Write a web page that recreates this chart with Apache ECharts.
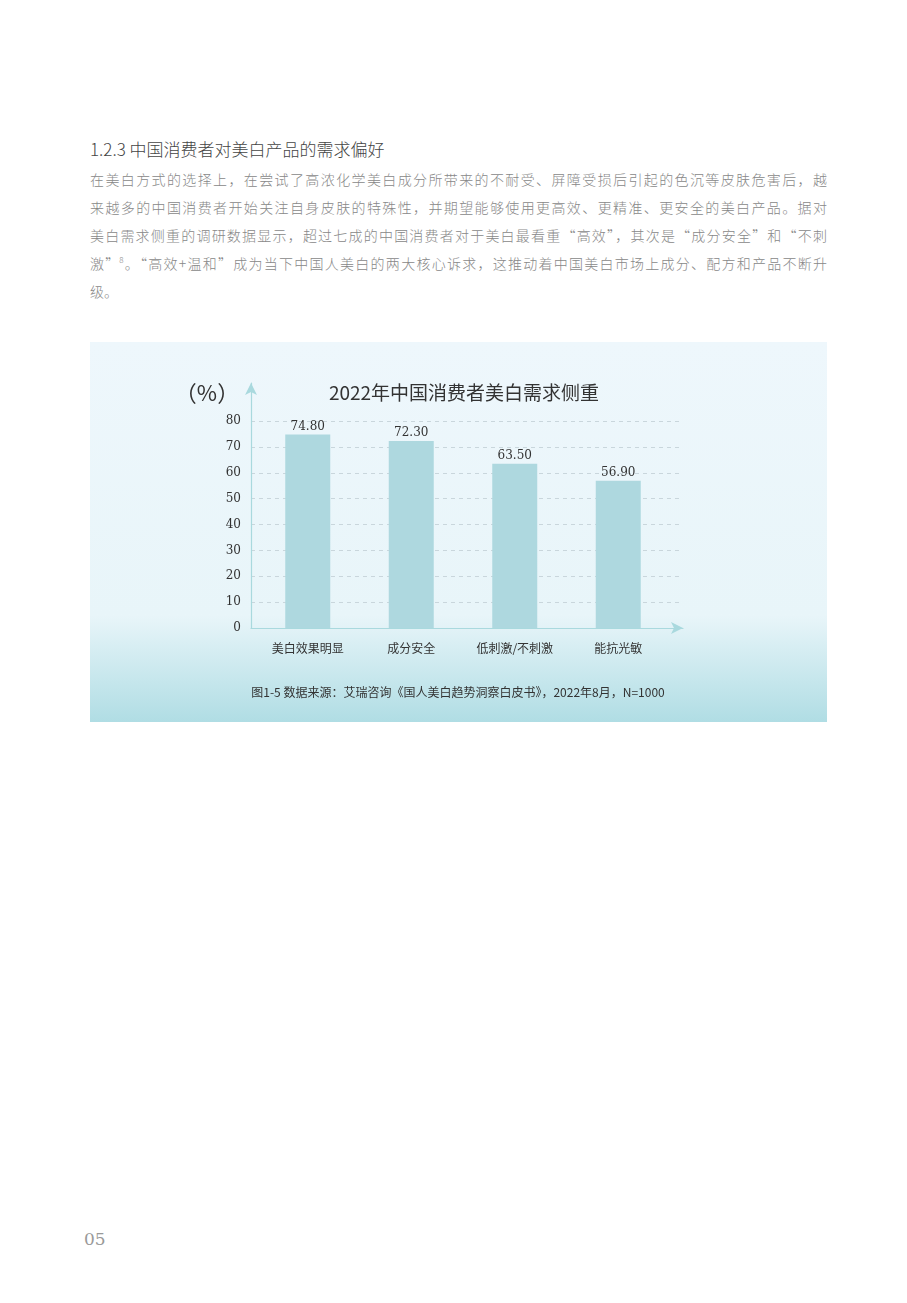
<!DOCTYPE html>
<html>
<head>
<meta charset="utf-8">
<script src="https://cdn.jsdelivr.net/npm/echarts@6/dist/echarts.min.js"></script>
<style>
  html, body { margin: 0; padding: 0; background: #fff; }
  body { width: 907px; height: 1303px; position: relative; font-family: "Noto Sans CJK SC", sans-serif; }
  .heading { position: absolute; left: 90px; top: 137px; font-size: 17px; color: #444; font-weight: 300; line-height: 24px; }
  .body { position: absolute; left: 90px; top: 165px; width: 737px; font-size: 14px; color: #888; font-weight: 300; line-height: 28px; }
  .body div { text-align: justify; text-align-last: justify; white-space: nowrap; }
  .body div.last { text-align-last: left; }
  .body sup { font-size: 8px; vertical-align: 6px; line-height: 0; }
  #chart { position: absolute; left: 90px; top: 342px; width: 737px; height: 380px; }
  .page { position: absolute; left: 84px; top: 1229px; font-family: "DejaVu Serif", serif; font-size: 17px; color: #999; }
</style>
</head>
<body>
<div class="heading">1.2.3 中国消费者对美白产品的需求偏好</div>
<div class="body">
  <div>在美白方式的选择上，在尝试了高浓化学美白成分所带来的不耐受、屏障受损后引起的色沉等皮肤危害后，越</div>
  <div>来越多的中国消费者开始关注自身皮肤的特殊性，并期望能够使用更高效、更精准、更安全的美白产品。据对</div>
  <div>美白需求侧重的调研数据显示，超过七成的中国消费者对于美白最看重“高效”，其次是“成分安全”和“不刺</div>
  <div>激”<sup>8</sup>。“高效+温和”成为当下中国人美白的两大核心诉求，这推动着中国美白市场上成分、配方和产品不断升</div>
  <div class="last">级。</div>
</div>
<div id="chart"></div>
<div class="page">05</div>
<script>
const categories = ['美白效果明显', '成分安全', '低刺激/不刺激', '能抗光敏']
const values = [74.8, 72.3, 63.5, 56.9]
const chartTitle = '2022年中国消费者美白需求侧重'
const unitLabel = '（%）'
const caption = '图1-5 数据来源：艾瑞咨询《国人美白趋势洞察白皮书》，2022年8月，N=1000'
const yMax = 94.7
const yLabelMax = 80

const chart = echarts.init(document.getElementById('chart'))

const axisColor = '#a9d9de'
const gridColors = []
for (let v = 0; v <= 90; v += 10) gridColors.push(v <= yLabelMax ? '#c9d6dc' : 'rgba(0,0,0,0)')
gridColors.push('rgba(0,0,0,0)')

chart.setOption({
  backgroundColor: new echarts.graphic.LinearGradient(0, 0, 0, 1, [
    { offset: 0, color: '#eef7fc' },
    { offset: 0.72, color: '#e8f5f9' },
    { offset: 1, color: '#b0dde4' }
  ]),
  title: [
    {
      text: chartTitle,
      left: 369,
      top: 36,
      textAlign: 'center',
      textStyle: { fontFamily: 'Noto Sans CJK SC', fontSize: 19, fontWeight: 'normal', color: '#333' }
    },
    {
      text: unitLabel,
      left: 112,
      top: 35,
      textAlign: 'center',
      textStyle: { fontFamily: 'Noto Sans CJK SC', fontSize: 22, fontWeight: 'normal', color: '#333' }
    },
    {
      text: caption,
      left: 363,
      top: 339,
      textAlign: 'center',
      textStyle: { fontFamily: 'Noto Sans CJK SC', fontSize: 12, fontWeight: 'normal', color: '#333' }
    }
  ],
  grid: [
    { left: 161, top: 41, width: 432, height: 245 },
    { left: 166, top: 41, width: 414, height: 245 }
  ],
  xAxis: [
    {
      gridIndex: 0,
      type: 'value',
      min: 0,
      max: 1,
      axisLine: { show: true, lineStyle: { color: axisColor, width: 1.2 }, symbol: ['none', 'arrow'], symbolSize: [9, 12] },
      axisTick: { show: false },
      axisLabel: { show: false },
      splitLine: { show: false }
    },
    {
      gridIndex: 1,
      type: 'category',
      data: categories,
      axisLine: { show: false },
      axisTick: { show: false },
      axisLabel: { margin: 14, fontFamily: 'Noto Sans CJK SC', fontSize: 12, color: '#333' }
    }
  ],
  yAxis: [
    {
      gridIndex: 0,
      type: 'value',
      min: 0,
      max: yMax,
      interval: 10,
      axisLine: { show: true, lineStyle: { color: axisColor, width: 1.2 }, symbol: ['none', 'arrow'], symbolSize: [9, 12] },
      axisTick: { show: false },
      axisLabel: {
        margin: 10,
        fontFamily: 'DejaVu Serif',
        fontSize: 12,
        color: '#333',
        formatter: (v) => (v <= yLabelMax ? String(v) : '')
      },
      splitLine: { show: true, lineStyle: { type: [4, 4], color: gridColors, width: 1 } }
    },
    {
      gridIndex: 1,
      type: 'value',
      min: 0,
      max: yMax,
      show: false,
      splitLine: { show: false }
    }
  ],
  series: [
    {
      type: 'bar',
      xAxisIndex: 1,
      yAxisIndex: 1,
      data: values,
      barWidth: 45,
      itemStyle: { color: '#aed8df' },
      label: {
        show: true,
        position: 'top',
        distance: 2,
        fontFamily: 'DejaVu Serif',
        fontSize: 12,
        color: '#333',
        formatter: (p) => p.value.toFixed(2)
      }
    }
  ]
})
</script>
</body>
</html>
